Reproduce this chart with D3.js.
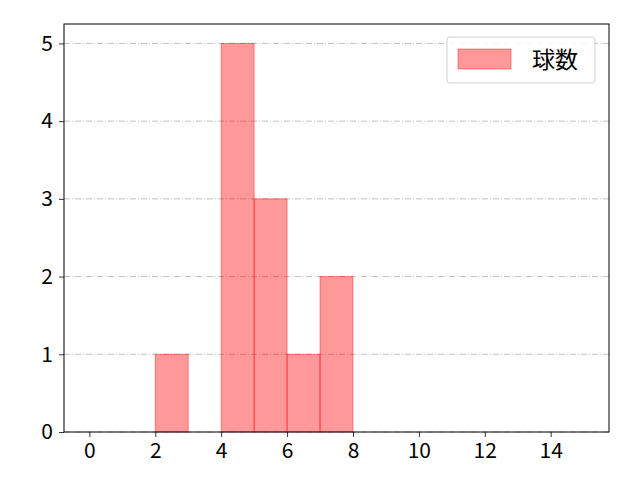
<!DOCTYPE html>
<html>
<head>
<meta charset="utf-8">
<script src="https://cdn.jsdelivr.net/npm/d3@7"></script>
<style>
  body { margin: 0; background: #fff; }
  text { font-family: "Noto Sans CJK JP", "DejaVu Sans", sans-serif; }
</style>
</head>
<body>
<div id="chart"></div>
<script>
// histogram bins (left edge, right edge) and counts
let binStarts = [2, 4, 5, 6, 7];
let binEnds = [3, 5, 6, 7, 8];
let counts = [1, 5, 3, 1, 2];
let xTicks = [0, 2, 4, 6, 8, 10, 12, 14];
let yTicks = [0, 1, 2, 3, 4, 5];
let seriesName = '球数';

let svgWidth = 640;
let svgHeight = 480;
let margin = { top: 24, right: 31, bottom: 48, left: 64 };
let chartWidth = svgWidth - margin.left - margin.right;
let chartHeight = svgHeight - margin.top - margin.bottom;

let svg = d3.select('#chart')
            .append('svg')
            .attr('width', svgWidth)
            .attr('height', svgHeight);

let chartGroup = svg.append('g')
                    .attr('transform', `translate(${margin.left}, ${margin.top})`);

let xScale = d3.scaleLinear()
               .domain([-0.77, 15.77])
               .range([0, chartWidth]);

let yScale = d3.scaleLinear()
               .domain([0, 5.25])
               .range([chartHeight, 0]);

// grid lines
chartGroup.selectAll('.grid')
          .data(yTicks)
          .enter()
          .append('line')
          .attr('x1', 0)
          .attr('x2', chartWidth)
          .attr('y1', d => yScale(d))
          .attr('y2', d => yScale(d))
          .attr('stroke', '#b0b0b0')
          .attr('stroke-width', 0.8)
          .attr('stroke-dasharray', '6,2,1,2');

// bars
let bins = counts.map((c, i) => ({ x0: binStarts[i], x1: binEnds[i], n: c }));
chartGroup.selectAll('.bar')
          .data(bins)
          .enter()
          .append('rect')
          .attr('x', d => xScale(d.x0))
          .attr('y', d => yScale(d.n))
          .attr('width', d => xScale(d.x1) - xScale(d.x0))
          .attr('height', d => yScale(0) - yScale(d.n))
          .attr('fill', 'rgba(255,0,0,0.4)')
          .attr('stroke', 'rgba(255,0,0,0.4)')
          .attr('stroke-width', 1);

// axes
let xAxis = d3.axisBottom(xScale).tickValues(xTicks).tickSize(5).tickPadding(6)
              .tickFormat(d3.format('d'));
let yAxis = d3.axisLeft(yScale).tickValues(yTicks).tickSize(5).tickPadding(6)
              .tickFormat(d3.format('d'));

let gx = chartGroup.append('g')
          .attr('transform', `translate(0, ${chartHeight})`)
          .call(xAxis);
let gy = chartGroup.append('g')
          .call(yAxis);

[gx, gy].forEach(g => {
  g.select('.domain').remove();
  g.selectAll('.tick line').attr('stroke', '#000').attr('stroke-width', 0.8);
  g.selectAll('.tick text')
   .attr('fill', '#000')
   .style('font-size', '21px')
   .style('font-family', '"Noto Sans CJK JP", "DejaVu Sans", sans-serif');
});

// frame
chartGroup.append('rect')
          .attr('x', 0)
          .attr('y', 0)
          .attr('width', chartWidth)
          .attr('height', chartHeight)
          .attr('fill', 'none')
          .attr('stroke', '#000')
          .attr('stroke-width', 1);

// legend
let legend = svg.append('g')
                .attr('transform', 'translate(447, 37)');
legend.append('rect')
      .attr('width', 148)
      .attr('height', 46)
      .attr('rx', 3)
      .attr('fill', '#fff')
      .attr('fill-opacity', 0.8)
      .attr('stroke', '#d0d0d0');
legend.append('rect')
      .attr('x', 11)
      .attr('y', 12)
      .attr('width', 53)
      .attr('height', 20)
      .attr('fill', 'rgba(255,0,0,0.4)')
      .attr('stroke', 'rgba(255,0,0,0.4)');
legend.append('text')
      .attr('x', 85)
      .attr('y', 31)
      .style('font-size', '23px')
      .attr('fill', '#000')
      .text(seriesName);
</script>
</body>
</html>
